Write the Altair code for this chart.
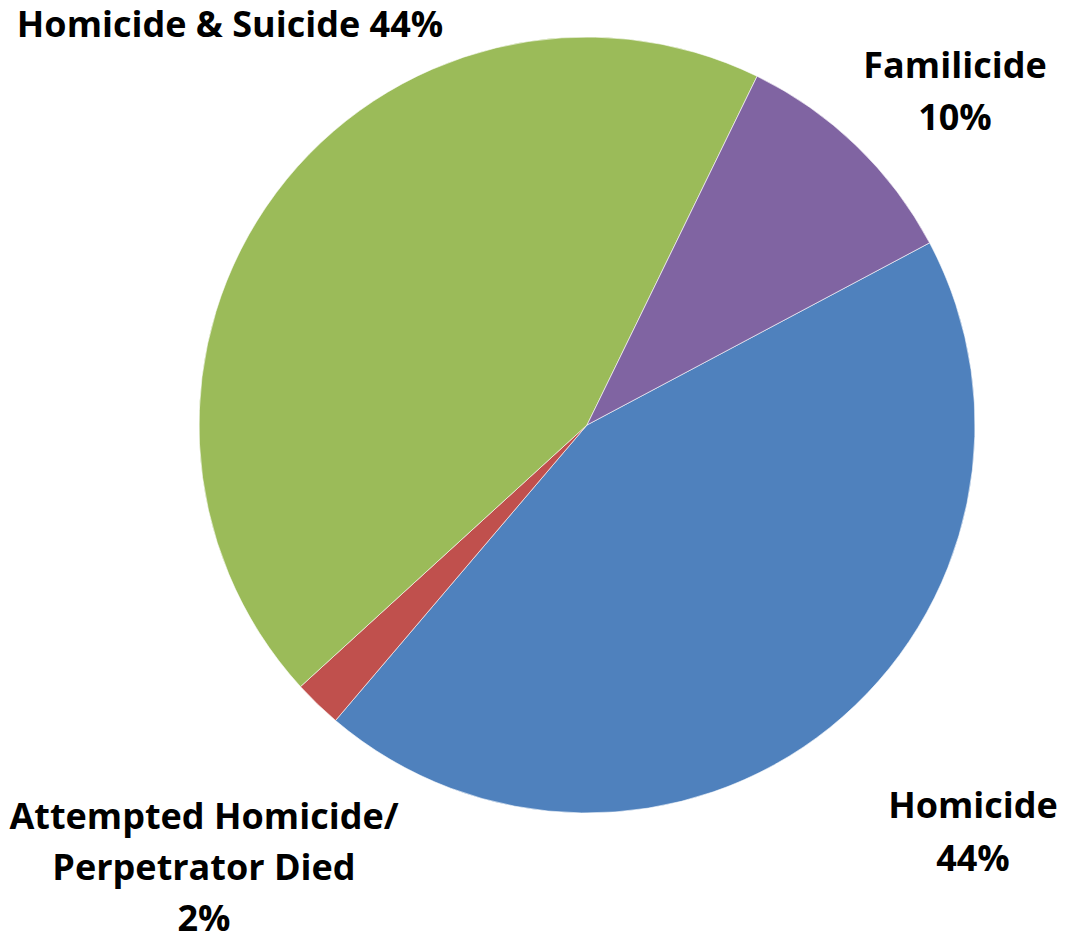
import math
import altair as alt
import pandas as pd

categories = ["Homicide", "Attempted Homicide/Perpetrator Died", "Homicide & Suicide", "Familicide"]
values = [44, 2, 44, 10]
colors = ["#4F81BD", "#C0504D", "#9BBB59", "#8064A2"]

df = pd.DataFrame({"category": categories, "value": values, "idx": list(range(len(categories)))})

start = math.radians(62.0)

pie = alt.Chart(df).mark_arc(radius=388, stroke="#ffffff", strokeWidth=0.6).encode(
    theta=alt.Theta("value:Q", stack=True, scale=alt.Scale(range=[start, start + 2 * math.pi])),
    color=alt.Color("category:N", scale=alt.Scale(domain=categories, range=colors), legend=None),
    order=alt.Order("idx:Q"),
    x=alt.value(579),
    y=alt.value(417),
)

label_lines = [
    ("Homicide & Suicide 44%", 222, 29),
    ("Familicide", 947, 70),
    ("10%", 947, 122),
    ("Homicide", 965, 810),
    ("44%", 965, 863),
    ("Attempted Homicide/", 196, 821),
    ("Perpetrator Died", 196, 872),
    ("2%", 196, 923),
]

layers = [pie]
for txt, lx, ly in label_lines:
    layers.append(
        alt.Chart(pd.DataFrame({"t": [txt]})).mark_text(
            font="Open Sans", fontWeight="bold", fontSize=36, align="center", baseline="alphabetic", color="#000000"
        ).encode(text="t:N", x=alt.value(lx), y=alt.value(ly))
    )

chart = alt.layer(*layers).properties(
    width=1050, height=925, padding=0, autosize=alt.AutoSizeParams(type="none")
).configure_view(stroke=None)

chart.save("out.html", embed_options={"renderer": "svg", "actions": False})
